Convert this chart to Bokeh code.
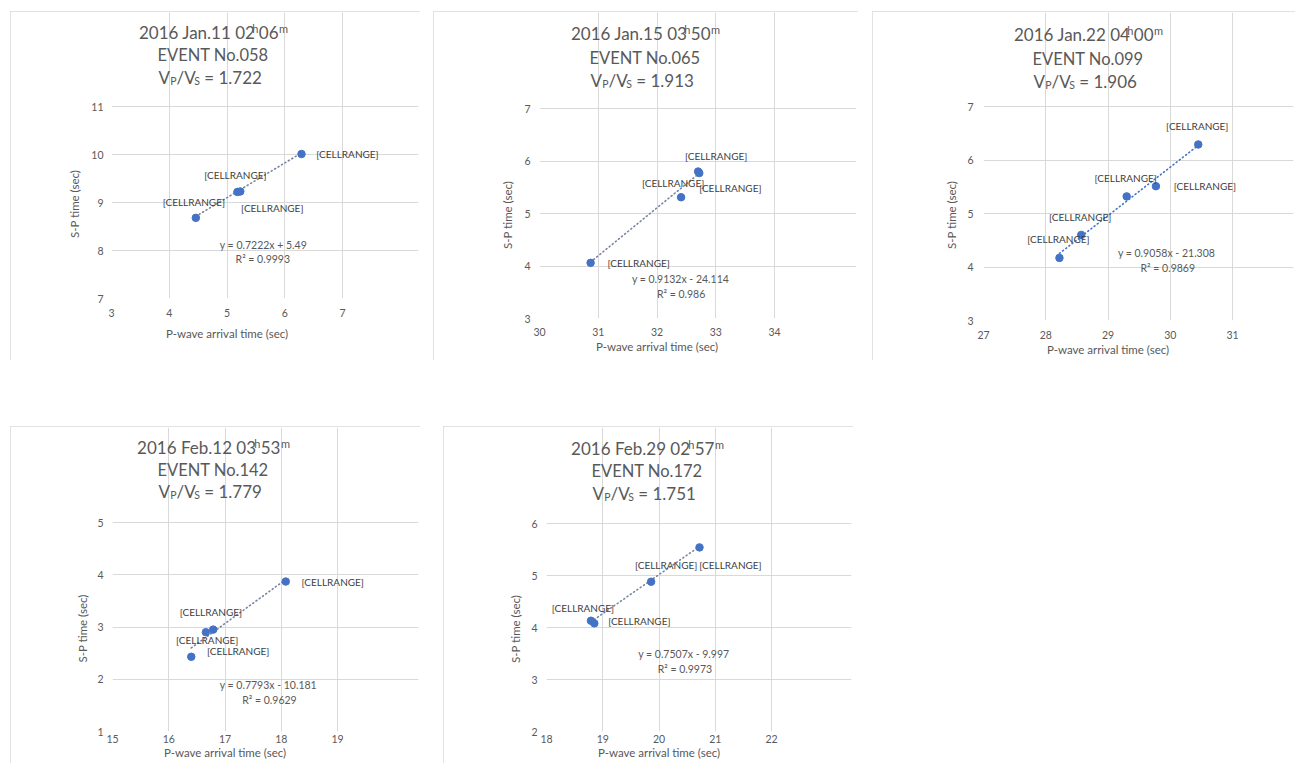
from bokeh.plotting import figure
from bokeh.models import ColumnDataSource, LabelSet, Label, Range1d, FixedTicker, Title
from bokeh.embed import file_html
from bokeh.resources import INLINE
from bokeh.core.properties import value

# ---------------- data ----------------
dates = ["2016 Jan.11", "2016 Jan.15", "2016 Jan.22", "2016 Feb.12", "2016 Feb.29"]
hours = ["02", "03", "04", "03", "02"]
minutes = ["06", "50", "00", "53", "57"]
events = ["EVENT No.058", "EVENT No.065", "EVENT No.099", "EVENT No.142", "EVENT No.172"]
vpvs = ["1.722", "1.913", "1.906", "1.779", "1.751"]

p_arrival_058 = [4.46, 5.18, 5.23, 6.29]
sp_time_058 = [8.68, 9.22, 9.23, 10.01]
p_arrival_065 = [30.87, 32.41, 32.70, 32.72]
sp_time_065 = [4.06, 5.31, 5.80, 5.77]
p_arrival_099 = [28.22, 28.57, 29.30, 29.77, 30.45]
sp_time_099 = [4.17, 4.60, 5.32, 5.51, 6.29]
p_arrival_142 = [16.40, 16.66, 16.79, 18.08]
sp_time_142 = [2.43, 2.90, 2.95, 3.87]
p_arrival_172 = [18.79, 18.85, 19.86, 20.72]
sp_time_172 = [4.13, 4.08, 4.88, 5.54]

slopes = [0.7222, 0.9132, 0.9058, 0.7793, 0.7507]
intercepts = [5.49, -24.114, -21.308, -10.181, -9.997]
equations = ["y = 0.7222x + 5.49", "y = 0.9132x - 24.114", "y = 0.9058x - 21.308",
             "y = 0.7793x - 10.181", "y = 0.7507x - 9.997"]
r2_texts = ["R² = 0.9993", "R² = 0.986", "R² = 0.9869", "R² = 0.9629", "R² = 0.9973"]

x_ticks_058 = [3, 4, 5, 6, 7]
y_ticks_058 = [7, 8, 9, 10, 11]
x_ticks_065 = [30, 31, 32, 33, 34]
y_ticks_065 = [3, 4, 5, 6, 7]
x_ticks_099 = [27, 28, 29, 30, 31]
y_ticks_099 = [3, 4, 5, 6, 7]
x_ticks_142 = [15, 16, 17, 18, 19]
y_ticks_142 = [1, 2, 3, 4, 5]
x_ticks_172 = [18, 19, 20, 21, 22]
y_ticks_172 = [2, 3, 4, 5, 6]

point_label = "[CELLRANGE]"
x_title = "P-wave arrival time (sec)"
y_title = "S-P time (sec)"

series = [
    (p_arrival_058, sp_time_058, x_ticks_058, y_ticks_058),
    (p_arrival_065, sp_time_065, x_ticks_065, y_ticks_065),
    (p_arrival_099, sp_time_099, x_ticks_099, y_ticks_099),
    (p_arrival_142, sp_time_142, x_ticks_142, y_ticks_142),
    (p_arrival_172, sp_time_172, x_ticks_172, y_ticks_172),
]

# ---------------- layout / style ----------------
FONT = "Lato"
GRAY = "#595959"
DARK = "#404040"
GRID = "#d9d9d9"
BLUE = "#4472C4"
X_TITLE_W = 122   # rendered width of the x-axis title (px)
Y_TITLE_W = 71    # rendered width of the y-axis title (px)

# pos = page position of each panel box; area = plot-area edges (left, right, top, bottom)
LAYOUT = [
    dict(pos=(10, 11), W=410, H=349, area=(101, 332, 95, 287), tx=199, ty=[22, 44, 67],
         xs=10, xso=15, ys=8, yso=16, dx=[-2, -2, 32, 46], dy=[16, 17, -17, 0],
         eq=(5.63, 8.11), r2=(5.62, 7.82), trend="#7584a0"),
    dict(pos=(433, 11), W=425, H=349, area=(106, 341, 97, 307), tx=208, ty=[23, 47, 70],
         xs=9, xso=3, ys=9, yso=16, dx=[48, -8, 18, 31], dy=[0, 14, 16, -15],
         eq=(32.40, 3.75), r2=(32.41, 3.46), trend="#7584a0"),
    dict(pos=(872, 11), W=423, H=349, area=(111, 360, 95, 309), tx=212, ty=[24, 48, 71],
         xs=10, xso=2, ys=10, yso=14, dx=[-1, -1, -1, 49, -1], dy=[19, 18, 18, 0, 18],
         eq=(29.94, 4.27), r2=(29.96, 3.98), trend=BLUE),
    dict(pos=(10, 426), W=410, H=337, area=(102, 327, 96, 305), tx=199, ty=[22, 44, 66],
         xs=3, xso=0, ys=9, yso=12, dx=[16, 5, 25, 47], dy=[17, 20, -21, 0],
         eq=(17.77, 1.89), r2=(17.79, 1.60), trend="#7584a0"),
    dict(pos=(443, 426), W=410, H=337, area=(103, 328, 97, 305), tx=200, ty=[23, 45, 68],
         xs=3, xso=0, ys=9, yso=14, dx=[-8, 45, 15, 31], dy=[13, 2, 17, -18],
         eq=(20.44, 3.49), r2=(20.46, 3.21), trend="#7584a0"),
]

W_EM = {' ': 0.193, '.': 0.207, '/': 0.37, '=': 0.58, 'V': 0.678, 'P': 0.606, 'S': 0.52,
        'J': 0.368, 'a': 0.485, 'n': 0.548, 'F': 0.55, 'e': 0.516, 'b': 0.556,
        'h': 0.548, 'm': 0.818}


def text_w(s, size):
    return sum(W_EM.get(c, 0.58) for c in s) * size


def make_panel(i):
    xs, ys, xt, yt = series[i]
    L = LAYOUT[i]
    W, H = L["W"], L["H"]
    al, ar, at, ab = L["area"]
    sx = (ar - al) / (xt[-1] - xt[0])
    sy = (ab - at) / (yt[-1] - yt[0])
    f_top, f_right = 1, W - 2
    x_end = xt[0] + (f_right - al) / sx
    y_end = yt[0] + (ab - f_top) / sy

    def to_data(X, Y):
        return xt[0] + (X - al) / sx, yt[0] + (ab - Y) / sy

    p = figure(width=W, height=H, title=None, output_backend="svg", toolbar_location=None,
               x_range=Range1d(xt[0], x_end), y_range=Range1d(yt[0], y_end),
               min_border_left=al, min_border_right=W - f_right,
               min_border_top=f_top, min_border_bottom=H - ab)
    p.styles = {"position": "absolute", "left": f"{L['pos'][0]}px", "top": f"{L['pos'][1]}px",
                "outline": "1px solid #d9d9d9", "outline-offset": "-1px"}
    p.background_fill_color = "white"
    p.border_fill_color = "white"
    p.outline_line_color = None
    p.xaxis.ticker = FixedTicker(ticks=xt)
    p.yaxis.ticker = FixedTicker(ticks=yt)
    p.xaxis.bounds = (xt[0], xt[-1])
    p.yaxis.bounds = (yt[0], yt[-1])
    p.xgrid.ticker = FixedTicker(ticks=xt)
    p.ygrid.ticker = FixedTicker(ticks=yt)
    p.xgrid.bounds = (yt[0], yt[-1])
    p.ygrid.bounds = (xt[0], xt[-1])
    p.grid.grid_line_color = GRID
    p.axis.axis_line_color = None
    p.axis.major_tick_line_color = None
    p.axis.minor_tick_line_color = None
    p.axis.major_tick_out = 0
    p.axis.major_tick_in = 0
    p.axis.major_label_text_font = FONT
    p.axis.major_label_text_font_size = "10.5px"
    p.axis.major_label_text_color = GRAY
    p.xaxis.major_label_standoff = L["xs"]
    p.yaxis.major_label_standoff = L["ys"]

    # axis titles, centred on the plot area
    p.add_layout(Title(text=x_title, align="left", offset=(ar - al) / 2.0 - X_TITLE_W / 2.0,
                       vertical_align="top", standoff=L["xso"], text_font=FONT,
                       text_font_size="11.5px", text_font_style="normal",
                       text_color=GRAY), "below")
    p.add_layout(Title(text=y_title, align="left", offset=(ab - at) / 2.0 - Y_TITLE_W / 2.0,
                       vertical_align="bottom", standoff=L["yso"], text_font=FONT,
                       text_font_size="11.5px", text_font_style="normal",
                       text_color=GRAY), "left")

    # trendline over the data range
    x0, x1 = min(xs), max(xs)
    m, b = slopes[i], intercepts[i]
    p.line([x0, x1], [m * x0 + b, m * x1 + b], line_color=L["trend"], line_width=1.6,
           line_dash="1 3", line_cap="round")

    p.scatter(xs, ys, size=7.5, fill_color=BLUE, line_color=BLUE)

    src = ColumnDataSource(dict(x=xs, y=ys, t=[point_label] * len(xs), dx=L["dx"], dy=L["dy"]))
    p.add_layout(LabelSet(x="x", y="y", text="t", source=src, x_offset="dx", y_offset="dy",
                          text_font=value(FONT), text_font_size=value("10px"), text_color=DARK,
                          text_align="center", text_baseline="middle"))

    for (ex, ey), txt in ((L["eq"], equations[i]), (L["r2"], r2_texts[i])):
        p.add_layout(Label(x=ex, y=ey, text=txt, text_font=FONT, text_font_size="10.5px",
                           text_color=GRAY, text_align="center", text_baseline="middle"))

    # three-line title, placed inside the (extended) frame
    def pieces(parts, Y, shift_x=0.0):
        cxd, cyd = to_data(L["tx"] + shift_x, Y - 1)
        total = sum(text_w(t, s) + g for t, s, _, g in parts)
        off = -total / 2.0
        for t, s, shift, gap in parts:
            off += gap
            p.add_layout(Label(x=cxd, y=cyd, x_offset=off, y_offset=shift, text=t,
                               text_font=FONT, text_font_size=f"{s}px", text_color=GRAY,
                               text_align="left", text_baseline="alphabetic"))
            off += text_w(t, s)

    pieces([(dates[i] + " " + hours[i], 17, 0, 0), ("h", 11, 4, 0.5), (minutes[i], 17, 0, 0.5),
            ("m", 11, 4, 0.5)], L["ty"][0], 4)
    pieces([(events[i], 16.5, 0, 0)], L["ty"][1])
    pieces([("V", 17, 0, 0), ("P", 10.5, -3.5, 0), ("/V", 17, 0, 0), ("S", 10.5, -3.5, 0),
            ("= " + vpvs[i], 17, 0, 4.5)], L["ty"][2])
    return p


panels = [make_panel(i) for i in range(5)]

open("out.html", "w").write(file_html(panels, INLINE))
